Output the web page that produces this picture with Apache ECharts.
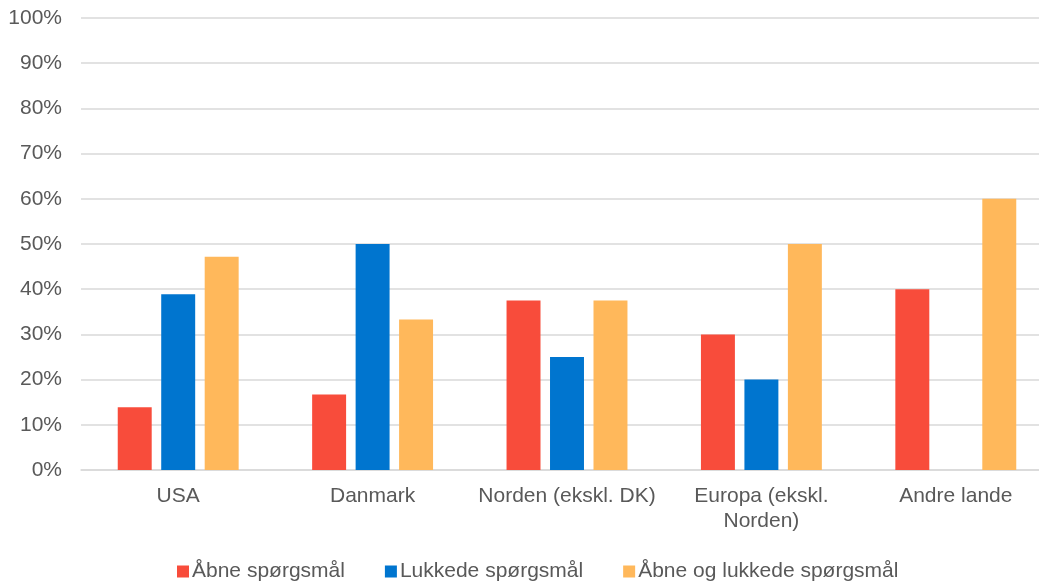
<!DOCTYPE html>
<html><head><meta charset="utf-8">
<script src="https://cdn.jsdelivr.net/npm/echarts@6/dist/echarts.min.js"></script>
<style>html,body{margin:0;padding:0;background:#fff;overflow:hidden;width:1044px;height:583px}#c{width:1064px;height:583px}</style>
</head><body><div id="c"></div>
<script>
const categories = ['USA', 'Danmark', 'Norden (ekskl. DK)', 'Europa (ekskl.\nNorden)', 'Andre lande'];
const seriesNames = ['Åbne spørgsmål', 'Lukkede spørgsmål', 'Åbne og lukkede spørgsmål'];
const aabne = [13.9, 16.7, 37.5, 30, 40];
const lukkede = [38.9, 50, 25, 20, 0];
const begge = [47.2, 33.3, 37.5, 50, 60];
const colors = ['#F84C3B', '#0075CF', '#FFB85B'];

const chart = echarts.init(document.getElementById('c'));
const font = 'Liberation Sans, Arial, sans-serif';
chart.setOption({
  animation: false,
  color: colors,
  grid: {left: 81, width: 972, top: 18, bottom: 113, containLabel: false},
  legend: {
    top: 556, left: 172, itemWidth: 12, itemHeight: 12, itemGap: 40,
    icon: 'rect',
    textStyle: {fontFamily: font, fontSize: 21, color: '#595959', padding: [0, 0, 0, -2]},
    data: seriesNames
  },
  graphic: [{type: 'rect', left: 1039, top: 0, shape: {width: 30, height: 480}, style: {fill: '#fff'}, z: 100}],
  xAxis: {
    type: 'category', data: categories,
    axisLine: {lineStyle: {color: '#d9d9d9', width: 1.5}},
    axisTick: {show: false},
    axisLabel: {fontFamily: font, fontSize: 21, color: '#595959', margin: 14, lineHeight: 25, interval: 0}
  },
  yAxis: {
    type: 'value', min: 0, max: 100, interval: 10,
    axisLabel: {formatter: '{value}%', fontFamily: font, fontSize: 21, color: '#595959', margin: 19},
    splitLine: {lineStyle: {color: '#d9d9d9', width: 1.5}},
    axisLine: {show: false}, axisTick: {show: false}
  },
  series: [
    {name: seriesNames[0], type: 'bar', data: aabne, barGap: '28%', barCategoryGap: '37.8%'},
    {name: seriesNames[1], type: 'bar', data: lukkede, barGap: '28%', barCategoryGap: '37.8%'},
    {name: seriesNames[2], type: 'bar', data: begge, barGap: '28%', barCategoryGap: '37.8%'}
  ]
});
</script></body></html>
